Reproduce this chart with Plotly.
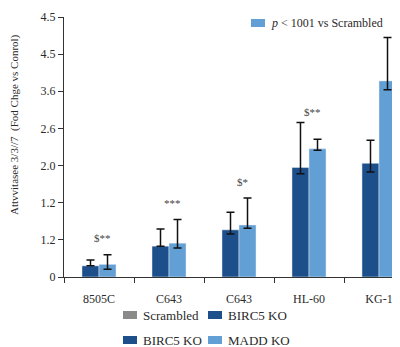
import plotly.graph_objects as go

categories = ["8505C", "C643", "C643", "HL-60", "KG-1"]
birc5_vals = [0.30, 0.83, 1.27, 2.95, 3.06]
birc5_err_plus = [0.16, 0.46, 0.47, 1.21, 0.62]
birc5_err_minus = [0.0, 0.0, 0.11, 0.17, 0.23]
madd_vals = [0.34, 0.91, 1.40, 3.45, 5.28]
madd_err_plus = [0.26, 0.64, 0.73, 0.26, 1.17]
madd_err_minus = [0.13, 0.13, 0.09, 0.04, 0.24]
ytick_text = ["0", "1.2", "1.2", "2.0", "2.6", "3.6", "4.5", "4.5"]
sig_labels = ["$**", "***", "$*", "$**"]
sig_y = [1.05, 2.0, 2.57, 4.43]

DARK = "#1d4f8b"
LIGHT = "#629fd4"
GREY = "#8a8a8a"
FONT = "Liberation Serif"
TXT = "#2a2a2a"

# page body has an 8px margin; figure is sized/placed to compensate
OFF = 8
FW, FH = 400 - OFF, 347 - OFF

x = list(range(len(categories)))

fig = go.Figure()
fig.add_trace(go.Bar(
    x=x, y=birc5_vals, name="BIRC5 KO", marker_color=DARK,
    error_y=dict(type="data", symmetric=False, array=birc5_err_plus,
                 arrayminus=birc5_err_minus, color="#111111", thickness=1.5, width=4),
))
fig.add_trace(go.Bar(
    x=x, y=madd_vals, name="MADD KO", marker_color=LIGHT,
    error_y=dict(type="data", symmetric=False, array=madd_err_plus,
                 arrayminus=madd_err_minus, color="#111111", thickness=1.5, width=4),
))

# reference pixel geometry of plot area
L, T, R, B = 64, 17, 400, 277
W = R - L
H = B - T

def px(xp):
    return (xp - L) / W

def py(yp):
    return (B - yp) / H

annotations = []
for i, (lab, yv) in enumerate(zip(sig_labels, sig_y)):
    annotations.append(dict(x=i + 0.05, y=yv, xref="x", yref="y", text=lab,
                            showarrow=False, font=dict(family=FONT, size=11, color="#444")))

annotations.append(dict(x=px(15), y=py(125), xref="paper", yref="paper",
                        text="Attvvitasee 3/3//7  (Fod Chge vs Conrol)", textangle=-90,
                        showarrow=False, font=dict(family=FONT, size=11, color=TXT),
                        xanchor="center", yanchor="middle"))

shapes = []
def legend_item(x0, y0, color, label, size=13):
    shapes.append(dict(type="rect", xref="paper", yref="paper",
                       x0=px(x0), x1=px(x0 + 14), y0=py(y0 + 4), y1=py(y0 - 4),
                       fillcolor=color, line=dict(width=0)))
    annotations.append(dict(x=px(x0 + 18), y=py(y0), xref="paper", yref="paper",
                            text=label, showarrow=False, xanchor="left", yanchor="middle",
                            font=dict(family=FONT, size=size, color=TXT)))

legend_item(251, 23, LIGHT, "<i>p</i> < 1001 vs Scrambled", size=12)
legend_item(123, 315, GREY, "Scrambled")
legend_item(208, 315, DARK, "BIRC5 KO")
legend_item(123, 340, DARK, "BIRC5 KO")
legend_item(208, 340, LIGHT, "MADD KO")

fig.update_layout(
    width=FW, height=FH,
    margin=dict(l=L - OFF, r=400 - R, t=T - OFF, b=347 - B),
    paper_bgcolor="white", plot_bgcolor="white",
    barmode="group", bargap=0.514, bargroupgap=0,
    showlegend=False,
    font=dict(family=FONT, size=12, color=TXT),
    annotations=annotations, shapes=shapes,
    xaxis=dict(
        range=[-0.5, 4.3], tickmode="array", tickvals=x, ticktext=categories,
        ticks="", showline=True, linecolor="#333", linewidth=1.2,
        showgrid=False, zeroline=False, ticklabelstandoff=10,
        tickfont=dict(family=FONT, size=12, color=TXT),
        minor=dict(tickmode="array", tickvals=[-0.5, 0.5, 1.5, 2.5, 3.5],
                   ticks="outside", ticklen=5, tickcolor="#333", tickwidth=1.2),
    ),
    yaxis=dict(
        range=[0, 7], tickmode="array", tickvals=list(range(8)), ticktext=ytick_text,
        ticks="outside", ticklen=5, tickcolor="#333", tickwidth=1.2,
        showline=True, linecolor="#333", linewidth=1.2,
        showgrid=False, zeroline=False,
        tickfont=dict(family=FONT, size=12, color=TXT),
    ),
)

fig.write_html("out.html")
